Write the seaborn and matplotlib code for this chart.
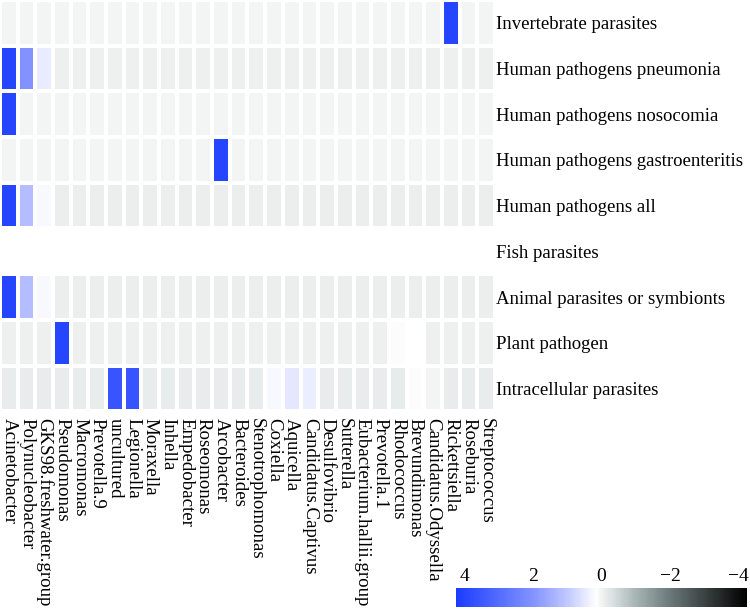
import numpy as np
import pandas as pd
import seaborn as sns
from matplotlib import pyplot as plt
from matplotlib.colors import LinearSegmentedColormap

genera = ['Acinetobacter', 'Polynucleobacter', 'GKS98.freshwater.group', 'Pseudomonas',
          'Macromonas', 'Prevotella.9', 'uncultured', 'Legionella', 'Moraxella', 'Inhella',
          'Empedobacter', 'Roseomonas', 'Arcobacter', 'Bacteroides', 'Stenotrophomonas',
          'Coxiella', 'Aquicella', 'Candidatus.Captivus', 'Desulfovibrio', 'Sutterella',
          'Eubacterium.hallii.group', 'Prevotella.1', 'Rhodococcus', 'Brevundimonas',
          'Candidatus.Odyssella', 'Rickettsiella', 'Roseburia', 'Streptococcus']

traits = ['Invertebrate parasites', 'Human pathogens pneumonia', 'Human pathogens nosocomia',
          'Human pathogens gastroenteritis', 'Human pathogens all', 'Fish parasites',
          'Animal parasites or symbionts', 'Plant pathogen', 'Intracellular parasites']

invertebrate = [0.0] * 25 + [4.0, 0.0, 0.0]
pneumonia = [4.0, 2.0, 0.45] + [-0.06] * 25
nosocomia = [4.0] + [0.0] * 27
gastroenteritis = [0.0] * 12 + [4.0] + [0.0] * 15
human_all = [4.0, 1.2, 0.25] + [-0.08] * 25
fish = [np.nan] * 28
animal = [4.0, 1.2, 0.25] + [-0.08] * 25
plant = [-0.05] * 3 + [4.0] + [-0.05] * 18 + [0.1, 0.15, -0.05, -0.05, -0.05, -0.05]
intracellular = ([-0.12] * 6 + [3.6, 3.6] + [-0.12] * 7 + [0.25, 0.5, 0.4]
                 + [-0.12] * 4 + [-0.15, 0.1, 0.0, -0.12, -0.12, -0.12])

cbar_ticks = [4, 2, 0, -2, -4]
cbar_labels = ['4', '2', '0', '\u22122', '\u22124']

data = pd.DataFrame([invertebrate, pneumonia, nosocomia, gastroenteritis, human_all,
                     fish, animal, plant, intracellular], index=traits, columns=genera)

vmin, vmax = -4.25, 4.25
nodes = [(-4.25, '#000000'), (-2, '#6b797a'), (-1, '#a8b5b5'), (-0.3, '#dbe2e2'),
         (0, '#f2f3f3'), (0.15, '#ffffff'), (1, '#c0c8ff'), (2, '#8393ff'), (4.25, '#1a3cff')]
cmap = LinearSegmentedColormap.from_list(
    'bwg', [((v - vmin) / (vmax - vmin), c) for v, c in nodes])

plt.rcParams['font.family'] = ['Liberation Serif', 'DejaVu Serif']

fig = plt.figure(figsize=(7.5, 6.12), dpi=100)
ax = fig.add_axes([0.0, 0.328, 0.66, 0.672])
cax = fig.add_axes([0.608, 0.008, 0.388, 0.031])

sns.heatmap(data, ax=ax, cmap=cmap, vmin=vmin, vmax=vmax, linewidths=1.6,
            linecolor='white', cbar=True, cbar_ax=cax,
            cbar_kws={'orientation': 'horizontal', 'ticks': cbar_ticks})

# row labels on the right, column labels read top to bottom
ax.yaxis.tick_right()
ax.set_yticklabels(traits, rotation=0, fontsize=13.5)
ax.tick_params(axis='y', length=0, pad=1)
ax.set_xticklabels(genera, rotation=270, fontsize=13.6, va='top', ha='center')
ax.tick_params(axis='x', length=0, pad=5)
ax.set_xlabel('')
ax.set_ylabel('')

cax.invert_xaxis()
cax.xaxis.tick_top()
cax.tick_params(length=0, labelsize=14, pad=2)
cax.set_xticklabels(cbar_labels)
for s in cax.spines.values():
    s.set_visible(False)

fig.savefig('out.png', dpi=100)
